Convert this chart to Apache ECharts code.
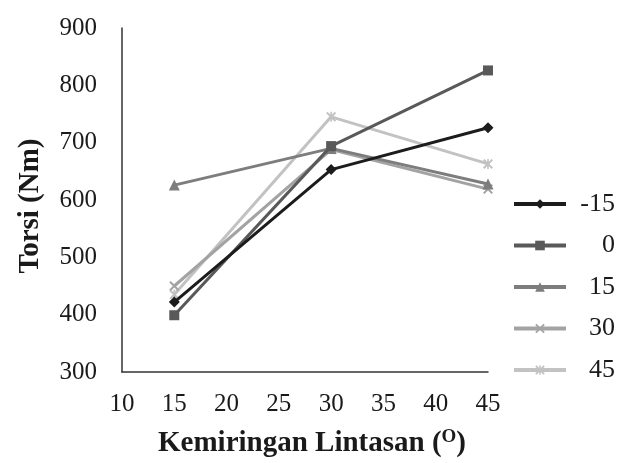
<!DOCTYPE html>
<html>
<head>
<meta charset="utf-8">
<script src="https://cdn.jsdelivr.net/npm/echarts@6/dist/echarts.min.js"></script>
<style>
  html, body { margin: 0; padding: 0; background: #fff; }
  #chart { width: 627px; height: 463px; }
</style>
</head>
<body>
<div id="chart"></div>
<script>
// sudut kemiringan (sumbu x)
const kemiringan = [15, 30, 45];
const seriesNames = ['-15', '0', '15', '30', '45'];
// torsi tiap seri
const torsiMin15 = [422, 653, 726];
const torsi0 = [399, 694, 826];
const torsi15 = [626, 690, 628];
const torsi30 = [450, 688, 619];
const torsi45 = [435, 745, 663];
const xTicks = [10, 15, 20, 25, 30, 35, 40, 45];
const yTicks = [300, 400, 500, 600, 700, 800, 900];

const allValues = [torsiMin15, torsi0, torsi15, torsi30, torsi45];
const colors = ['#1c1c1c', '#595959', '#7d7d7d', '#a3a3a3', '#c2c2c2'];
const xPath = 'path://M0,1.4L1.4,0L5,3.6L8.6,0L10,1.4L6.4,5L10,8.6L8.6,10L5,6.4L1.4,10L0,8.6L3.6,5Z';
const starPath = 'path://M0,1.4L1.4,0L5,3.6L8.6,0L10,1.4L6.4,5L10,8.6L8.6,10L5,6.4L1.4,10L0,8.6L3.6,5Z M4.2,0L5.8,0L5.8,10L4.2,10Z';
const symbols = ['diamond', 'rect', 'triangle', xPath, starPath];
const symbolSizes = [11, 10, 11, 10, 10];

const font = '"Liberation Serif", "Times New Roman", serif';

const chart = echarts.init(document.getElementById('chart'));

const series = seriesNames.map((name, i) => ({
    name: name,
    type: 'line',
    data: kemiringan.map((x, j) => [x, allValues[i][j]]),
    symbol: symbols[i],
    symbolSize: symbolSizes[i],
    showAllSymbol: true,
    lineStyle: { color: colors[i], width: 3 },
    itemStyle: { color: colors[i] },
    z: 10 - i
}));

chart.setOption({
    backgroundColor: '#fff',
    animation: false,
    textStyle: { fontFamily: font },
    grid: { left: 122, right: 139, top: 28, bottom: 87 },
    legend: {
        orient: 'vertical',
        left: 507,
        top: 186,
        itemWidth: 52,
        itemHeight: 12,
        itemGap: 15.5,
        data: seriesNames,
        lineStyle: { width: 4 },
        formatter: n => '{a|' + n + '}',
        textStyle: {
            fontFamily: font,
            fontSize: 26,
            color: '#1a1a1a',
            rich: { a: { fontSize: 26, fontFamily: font, width: 44, align: 'right' } }
        }
    },
    xAxis: {
        type: 'value',
        min: xTicks[0],
        max: xTicks[xTicks.length - 1],
        interval: 5,
        name: 'Kemiringan Lintasan ({s|O})',
        nameLocation: 'middle',
        nameGap: 56,
        nameTextStyle: {
            fontFamily: font, fontSize: 29, fontWeight: 'bold', color: '#1a1a1a',
            padding: [0, 0, 0, 14],
            rich: { s: { fontSize: 19, fontWeight: 'bold', fontFamily: font, padding: [0, 0, 12, 0] } }
        },
        axisLine: { lineStyle: { color: '#333', width: 1.5 } },
        axisTick: { show: false },
        splitLine: { show: false },
        axisLabel: { fontSize: 25, color: '#1a1a1a', margin: 20, fontFamily: font }
    },
    yAxis: {
        type: 'value',
        min: yTicks[0],
        max: yTicks[yTicks.length - 1],
        interval: 100,
        name: 'Torsi (Nm)',
        nameLocation: 'middle',
        nameGap: 77,
        nameTextStyle: {
            fontFamily: font, fontSize: 29, fontWeight: 'bold', color: '#1a1a1a',
            padding: [0, 12, 0, 0]
        },
        axisLine: { show: true, lineStyle: { color: '#333', width: 1.5 } },
        axisTick: { show: false },
        splitLine: { show: false },
        axisLabel: { fontSize: 25, color: '#1a1a1a', margin: 25, fontFamily: font }
    },
    series: series
});
</script>
</body>
</html>
